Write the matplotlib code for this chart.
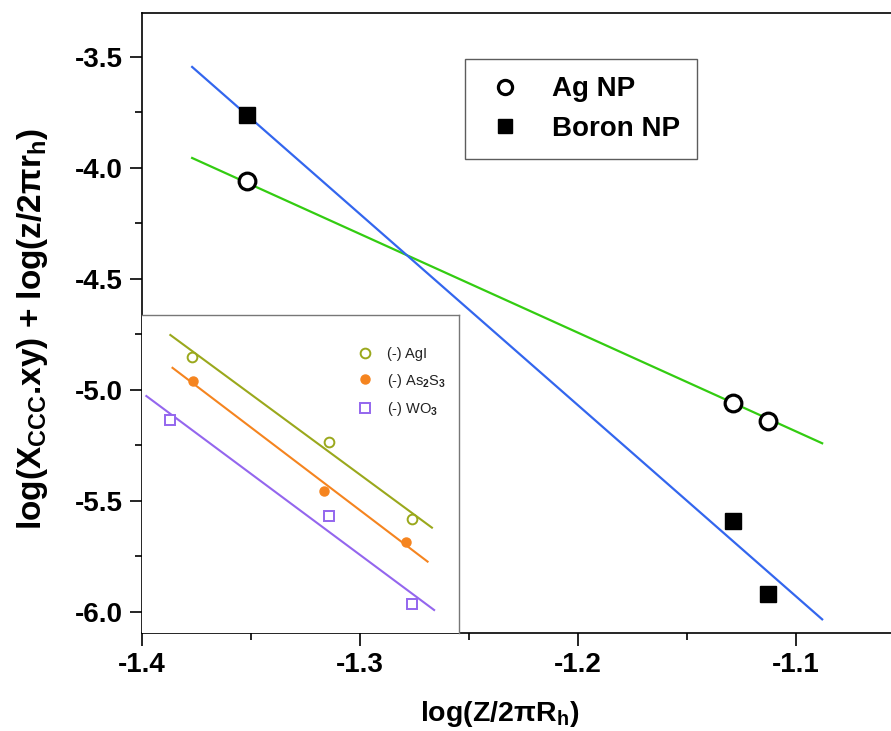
import matplotlib
matplotlib.use("Agg")
import matplotlib.pyplot as plt

plt.rcParams['font.family'] = ['Liberation Sans', 'DejaVu Sans']
plt.rcParams['mathtext.fontset'] = 'custom'
plt.rcParams['mathtext.rm'] = 'Liberation Sans:bold'
plt.rcParams['mathtext.it'] = 'Liberation Sans:bold'
plt.rcParams['mathtext.bf'] = 'Liberation Sans:bold'

# DATOS PRINCIPALES
# =================
ag_x = [-1.352, -1.129, -1.113]
ag_y = [-4.06, -5.06, -5.14]
boron_x = [-1.352, -1.129, -1.113]
boron_y = [-3.76, -5.59, -5.92]

# rectas de ajuste (extremos)
fit_x = [-1.377, -1.088]
ag_fit_y = [-3.955, -5.24]
boron_fit_y = [-3.545, -6.033]

# DATOS DEL INSET
# ===============
agi_x = [-1.377, -1.314, -1.276]
agi_y = [-4.853, -5.233, -5.581]
agi_fit_x = [-1.387, -1.267]
agi_fit_y = [-4.752, -5.620]

as2s3_x = [-1.3765, -1.3164, -1.279]
as2s3_y = [-4.961, -5.454, -5.683]
as2s3_fit_x = [-1.386, -1.269]
as2s3_fit_y = [-4.900, -5.773]

wo3_x = [-1.387, -1.314, -1.276]
wo3_y = [-5.135, -5.568, -5.964]
wo3_fit_x = [-1.398, -1.266]
wo3_fit_y = [-5.027, -5.991]

fig = plt.figure(figsize=(8.91, 7.31), dpi=100)
ax = fig.add_axes([142 / 891, 98 / 731, 768 / 891, 620 / 731])

ax.plot(fit_x, ag_fit_y, color='#33cc11', lw=1.6, zorder=2)
ax.plot(fit_x, boron_fit_y, color='#3366ee', lw=1.6, zorder=2)
ax.plot(ag_x, ag_y, 'o', ms=12, mfc='white', mec='black', mew=2.3,
        ls='none', label='Ag NP', zorder=3)
ax.plot(boron_x, boron_y, 's', ms=12, mfc='black', mec='black',
        ls='none', label='Boron NP', zorder=3)

ax.set_xlim(-1.4, -1.4 + 768 / 2180)
ax.set_ylim(-6.0946, -3.302)
ax.set_xticks([-1.4, -1.3, -1.2, -1.1])
ax.set_xticks([-1.35, -1.25, -1.15], minor=True)
ax.set_yticks([-6.0, -5.5, -5.0, -4.5, -4.0, -3.5])
ax.set_yticks([-5.75, -5.25, -4.75, -4.25, -3.75], minor=True)
ax.set_xticklabels(['-1.4', '-1.3', '-1.2', '-1.1'])
ax.set_yticklabels(['-6.0', '-5.5', '-5.0', '-4.5', '-4.0', '-3.5'])
ax.tick_params(which='major', direction='out', length=9, width=1.2,
               labelsize=20, pad=5)
ax.tick_params(which='minor', direction='out', length=5, width=1.2)
for lab in ax.get_xticklabels() + ax.get_yticklabels():
    lab.set_fontweight('bold')
for s in ax.spines.values():
    s.set_linewidth(1.2)

ax.set_xlabel('log(Z/2πR$_{h}$)', fontsize=20.5, fontweight='bold')
ax.xaxis.set_label_coords(0.466, -0.107)
ax.set_ylabel('log(X$_{CCC}$.xy) + log(z/2πr$_{h}$)', fontsize=24,
              fontweight='bold')
ax.yaxis.set_label_coords(-0.12, 0.49)

leg = ax.legend(loc='upper left', bbox_to_anchor=(465 / 891, 1 - 59 / 731),
                bbox_transform=fig.transFigure, fontsize=20, frameon=True,
                fancybox=False, edgecolor='#333333', handlelength=1.65,
                handletextpad=0.85, labelspacing=0.5, borderpad=0.62,
                borderaxespad=0, markerscale=0.85)
for t in leg.get_texts():
    t.set_fontweight('bold')
leg.get_frame().set_linewidth(1.0)

# INSET
ax_in = fig.add_axes([142 / 891, 98 / 731, 317 / 891, 318 / 731])
ax_in.plot(agi_fit_x, agi_fit_y, color='#9aa81c', lw=1.5)
ax_in.plot(as2s3_fit_x, as2s3_fit_y, color='#f5841f', lw=1.5)
ax_in.plot(wo3_fit_x, wo3_fit_y, color='#9466ee', lw=1.5)
ax_in.plot(agi_x, agi_y, 'o', ms=7, mfc='white', mec='#9aa81c', mew=1.4,
           ls='none', label='(-) AgI')
ax_in.plot(as2s3_x, as2s3_y, 'o', ms=6.5, mfc='#f5841f', mec='#f5841f',
           ls='none', label='(-) As$_2$S$_3$')
ax_in.plot(wo3_x, wo3_y, 's', ms=7.5, mfc='white', mec='#9466ee', mew=1.4,
           ls='none', label='(-) WO$_3$')
ax_in.set_xlim(-1.4, -1.4 + 317 / 2180)
ax_in.set_ylim(-6.0946, -4.662)
ax_in.set_xticks([])
ax_in.set_yticks([])
for s in ax_in.spines.values():
    s.set_color('#777777')
    s.set_linewidth(1.0)
ax_in.spines['left'].set_visible(False)
ax_in.spines['bottom'].set_visible(False)
leg_in = ax_in.legend(loc='upper left', bbox_to_anchor=(358 / 891, 1 - 347 / 731),
                      bbox_transform=fig.transFigure, fontsize=10.5, frameon=False,
                      handlelength=1.0, handletextpad=1.0, labelspacing=0.72,
                      borderpad=0, borderaxespad=0)
for t in leg_in.get_texts():
    t.set_color('#222222')

fig.savefig('out.png', dpi=100)
